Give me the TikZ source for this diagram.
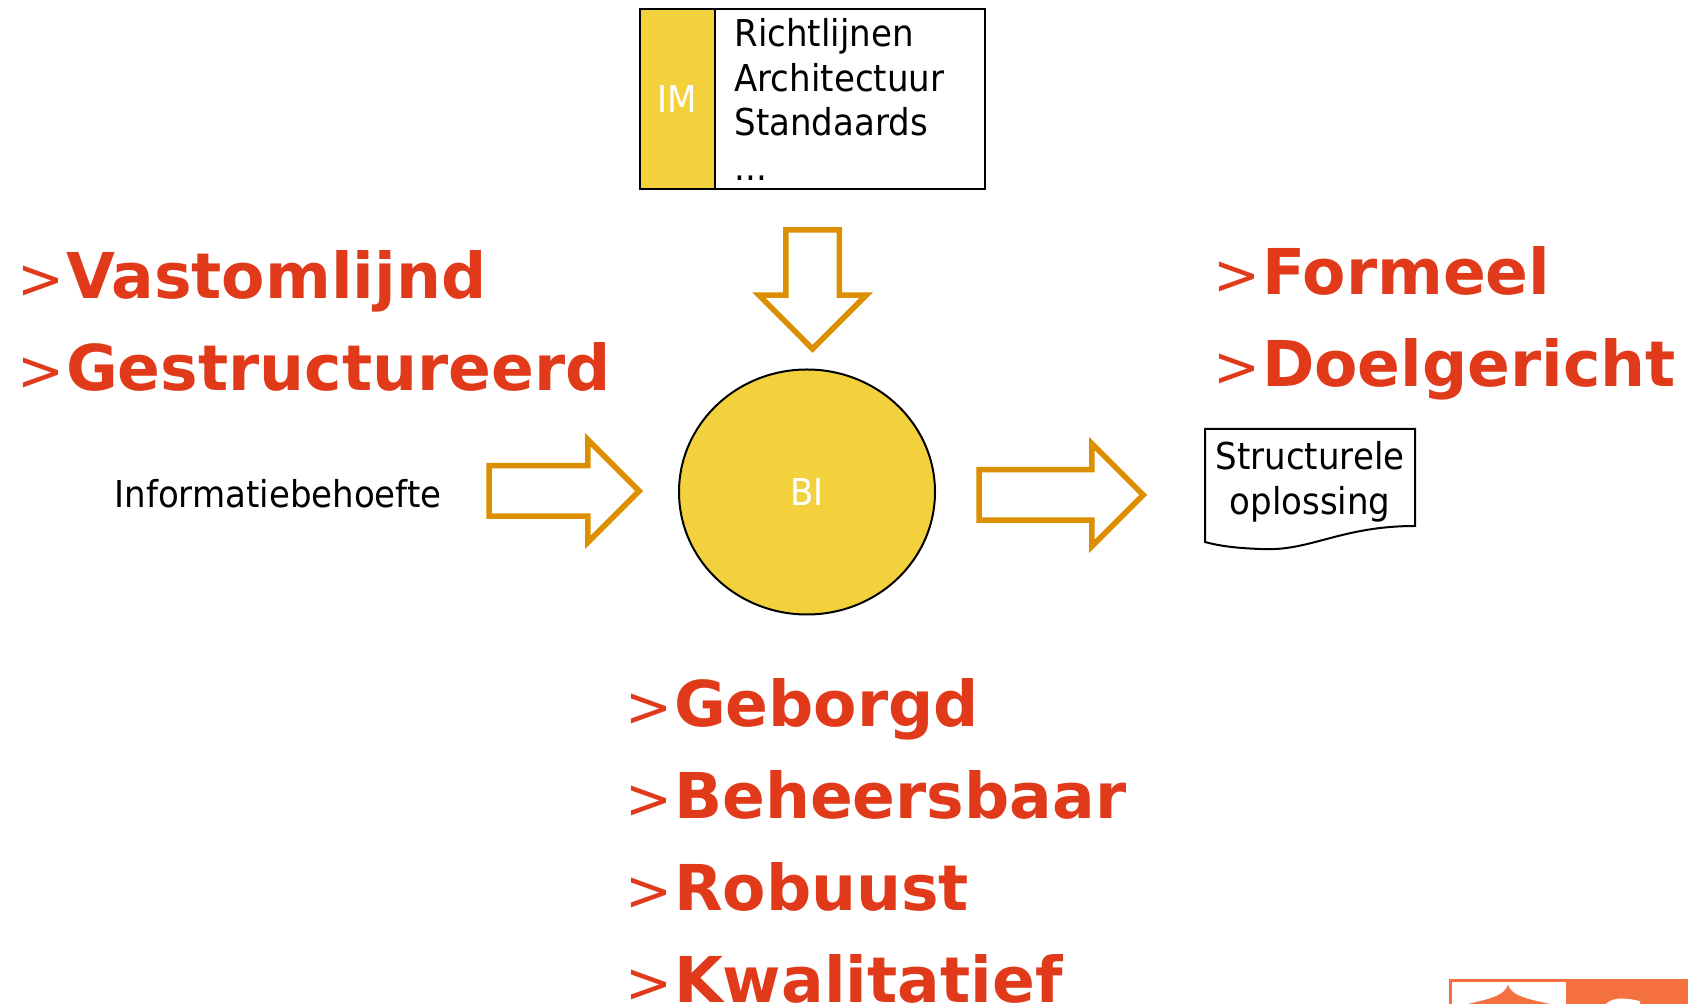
\documentclass[tikz,border=0pt]{standalone}
\usepackage{fontspec}
\usepackage[dvipsnames]{xcolor}
\setmainfont[FakeStretch=0.92]{DejaVu Sans}
\newfontfamily\redfont{DejaVu Sans}
\usetikzlibrary{positioning,shapes.geometric,shapes.arrows}
\definecolor{imyellow}{HTML}{F2D13C}
\definecolor{arrowgold}{HTML}{DC8F00}
\definecolor{itemred}{HTML}{E13A1B}
\definecolor{logoorange}{HTML}{F4713F}
\newcommand{\itemmark}{\makebox[23pt][l]{\hspace{-1.5pt}\redfont\mdseries\fontsize{28}{28}\selectfont >}}

\begin{document}
\begin{tikzpicture}[x=0.5pt,y=-0.5pt,node distance=46pt,
    red item/.style={inner sep=0pt,text width=320pt,text height=24pt,text depth=8pt,font=\redfont\fontsize{31.6}{31.6}\selectfont\bfseries,text=itemred},
    black text/.style={inner sep=0pt,font=\fontsize{18.5}{22.3}\selectfont,align=left},
    yellow node/.style={draw=black,line width=1pt,fill=imyellow,text=white,inner sep=0pt,outer sep=0pt,font=\fontsize{18.5}{22}\selectfont},
    block arrow/.style={single arrow,draw=arrowgold,line width=2.75pt,fill=white,inner xsep=0pt,inner ysep=11.25pt,outer sep=0pt,single arrow tip angle=90,single arrow head indent=0pt,single arrow head extend=13pt}]
    \useasboundingbox (0,0) rectangle (1688,1004);

    % top box
    \node[yellow node,minimum width=37.5pt,minimum height=90pt] (im) at (677.5,99) {IM};
    \node[draw=black,line width=1pt,outer sep=0pt,minimum width=135pt,minimum height=90pt,inner sep=0pt,right=0pt of im] (imbox) {};
    \node[black text,anchor=north west] (imtext) at (734,18) {Richtlijnen\\Architectuur\\Standaards\\...};

    \node[block arrow,rotate=-90,inner ysep=12pt,minimum height=59.5pt,single arrow head extend=13.5pt] (down) at (812.5,276) {};
    \node[yellow node,ellipse,minimum width=128pt,minimum height=122.5pt] (bi) at (807,492) {BI};

    % in and out
    \node[black text,anchor=base west] (behoefte) at (114,508) {Informatiebehoefte};
    \node[block arrow,minimum height=75pt] (in) at (551.5,491) {};
    \node[block arrow,minimum height=82pt] (out) at (1048.5,495) {};

    % document
    \draw[line width=1pt,fill=white] (1205,429) -- (1415,429) -- (1415,526)
        .. controls (1340,526) and (1310,552) .. (1260,549)
        .. controls (1235,548) and (1220,546) .. (1205,542) -- cycle;
    \node[black text,align=center] (doc) at (1310,482) {Structurele\\oplossing};

    % left items
    \node[red item] (vast) at (340,283) {\itemmark Vastomlijnd};
    \node[red item] (gestr) [below of=vast] {\itemmark Gestructureerd};

    % right items
    \node[red item] (formeel) at (1536,279) {\itemmark Formeel};
    \node[red item] (doel) [below of=formeel] {\itemmark Doelgericht};

    % bottom items
    \node[red item] (geborgd) at (948,711) {\itemmark Geborgd};
    \node[red item] (beheer) [below of=geborgd] {\itemmark Beheersbaar};
    \node[red item] (robuust) [below of=beheer] {\itemmark Robuust};
    \node[red item] (kwal) [below of=robuust] {\itemmark Kwalitatief};

    % logo
    \fill[logoorange] (1449,979) rectangle (1688,1004);
    \fill[white] (1452,982) rectangle (1566,1004);
    \fill[logoorange] (1508,985) .. controls (1512,995) and (1522,998) .. (1550,1004) -- (1468,1004) .. controls (1494,998) and (1504,995) .. (1508,985) -- cycle;
    \node[anchor=north,inner sep=0pt,text=white,font=\redfont\fontsize{36}{36}\selectfont\bfseries] (logo) at (1623,999) {S};
\end{tikzpicture}
\end{document}
